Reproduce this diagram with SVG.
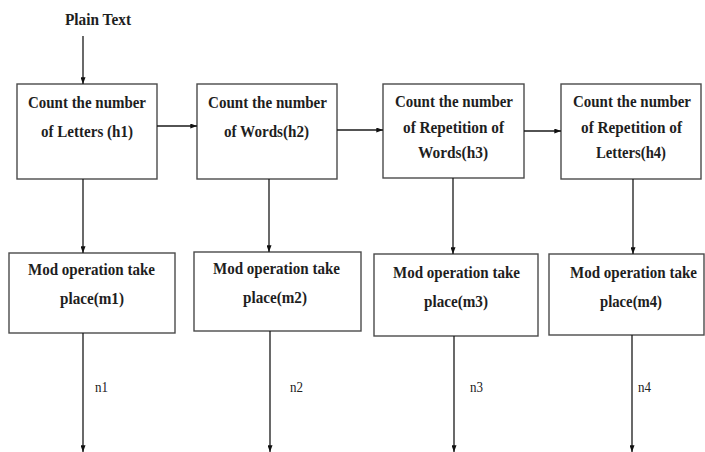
<svg xmlns="http://www.w3.org/2000/svg" width="705" height="452" viewBox="0 0 705 452">
<defs>
<marker id="ah" viewBox="0 0 8 6" refX="8" refY="3" markerWidth="7" markerHeight="5" markerUnits="userSpaceOnUse" orient="auto">
<path d="M0,0 L8,3 L0,6 Z" fill="#111"/>
</marker>
<style>
.box{fill:#fff;stroke:#4a4a4a;stroke-width:1.4}
.t{font-family:'Liberation Serif','Times New Roman',serif;font-weight:bold;font-size:16px;fill:#1e1e1e;text-anchor:middle}
.n{font-family:'Liberation Serif','Times New Roman',serif;font-size:14px;fill:#222}
.c{fill:none;stroke:#1a1a1a;stroke-width:1.3;marker-end:url(#ah)}
</style>
</defs>
<rect width="705" height="452" fill="#fff"/>
<g id="plain-text">
<text class="t" x="98" y="25" textLength="66" lengthAdjust="spacingAndGlyphs">Plain Text</text>
</g>
<g id="h1">
<rect class="box" x="17" y="84" width="140" height="95"/>
<text class="t" x="87" y="108" textLength="118" lengthAdjust="spacingAndGlyphs">Count the number</text>
<text class="t" x="87" y="137" textLength="92" lengthAdjust="spacingAndGlyphs">of Letters (h1)</text>
</g>
<g id="h2">
<rect class="box" x="197" y="84" width="140" height="95"/>
<text class="t" x="267.5" y="108" textLength="119" lengthAdjust="spacingAndGlyphs">Count the number</text>
<text class="t" x="266.5" y="137" textLength="85" lengthAdjust="spacingAndGlyphs">of Words(h2)</text>
</g>
<g id="h3">
<rect class="box" x="383" y="84" width="141" height="94"/>
<text class="t" x="454" y="107" textLength="118" lengthAdjust="spacingAndGlyphs">Count the number</text>
<text class="t" x="453.5" y="133" textLength="101" lengthAdjust="spacingAndGlyphs">of Repetition of</text>
<text class="t" x="453" y="158" textLength="70" lengthAdjust="spacingAndGlyphs">Words(h3)</text>
</g>
<g id="h4">
<rect class="box" x="561" y="84" width="140" height="95"/>
<text class="t" x="632" y="107" textLength="118" lengthAdjust="spacingAndGlyphs">Count the number</text>
<text class="t" x="631.5" y="133" textLength="101" lengthAdjust="spacingAndGlyphs">of Repetition of</text>
<text class="t" x="631" y="158" textLength="70" lengthAdjust="spacingAndGlyphs">Letters(h4)</text>
</g>
<g id="m1">
<rect class="box" x="9" y="253" width="166" height="80"/>
<text class="t" x="91.5" y="275" textLength="127" lengthAdjust="spacingAndGlyphs">Mod operation take</text>
<text class="t" x="92" y="304" textLength="64" lengthAdjust="spacingAndGlyphs">place(m1)</text>
</g>
<g id="m2">
<rect class="box" x="194" y="252" width="167" height="79"/>
<text class="t" x="276.5" y="274" textLength="127" lengthAdjust="spacingAndGlyphs">Mod operation take</text>
<text class="t" x="275" y="303" textLength="64" lengthAdjust="spacingAndGlyphs">place(m2)</text>
</g>
<g id="m3">
<rect class="box" x="374" y="254" width="164" height="82"/>
<text class="t" x="456.5" y="278" textLength="127" lengthAdjust="spacingAndGlyphs">Mod operation take</text>
<text class="t" x="456" y="307" textLength="64" lengthAdjust="spacingAndGlyphs">place(m3)</text>
</g>
<g id="m4">
<rect class="box" x="549" y="254" width="155" height="81"/>
<text class="t" x="633.5" y="278" textLength="127" lengthAdjust="spacingAndGlyphs">Mod operation take</text>
<text class="t" x="631" y="307" textLength="62" lengthAdjust="spacingAndGlyphs">place(m4)</text>
</g>
<g id="connectors">
<line class="c" x1="83" y1="36" x2="83" y2="84"/>
<line class="c" x1="157" y1="126" x2="197" y2="126"/>
<line class="c" x1="337" y1="130" x2="383" y2="130"/>
<line class="c" x1="524" y1="131" x2="561" y2="131"/>
<line class="c" x1="83" y1="179" x2="83" y2="253"/>
<line class="c" x1="269" y1="179" x2="269" y2="252"/>
<line class="c" x1="453" y1="178" x2="453" y2="254"/>
<line class="c" x1="633" y1="179" x2="633" y2="254"/>
<line class="c" x1="83" y1="333" x2="83" y2="452"/>
<line class="c" x1="270" y1="331" x2="270" y2="452"/>
<line class="c" x1="454" y1="336" x2="454" y2="452"/>
<line class="c" x1="632" y1="335" x2="632" y2="452"/>
<text class="n" x="95" y="392" textLength="13" lengthAdjust="spacingAndGlyphs">n1</text>
<text class="n" x="290" y="392" textLength="13" lengthAdjust="spacingAndGlyphs">n2</text>
<text class="n" x="470" y="392" textLength="13" lengthAdjust="spacingAndGlyphs">n3</text>
<text class="n" x="638" y="392" textLength="13" lengthAdjust="spacingAndGlyphs">n4</text>
</g>
</svg>
